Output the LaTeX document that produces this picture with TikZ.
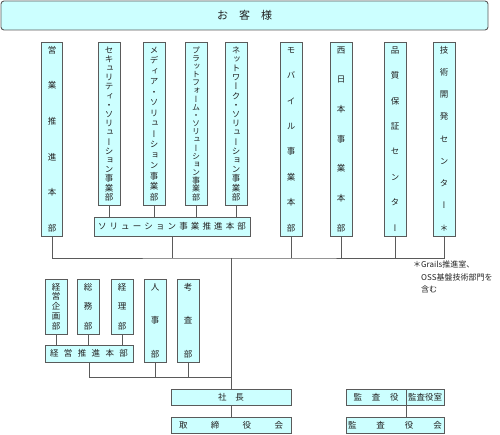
\documentclass[tikz,border=0pt]{standalone}
\usepackage{fontspec}
\setmainfont{Noto Sans CJK JP}
\newfontfamily\vjp[RawFeature=+vert]{Noto Sans CJK JP}
\definecolor{boxc}{HTML}{CCFFFF}
\definecolor{lineg}{HTML}{5A5A5A}
\definecolor{txt}{HTML}{222222}
% vertical stack of characters, #1 = distance between first and last char centres
\newcommand\vt[2]{\parbox[c][\dimexpr#1+0.76em\relax][s]{12pt}{\offinterlineskip\vjp\kern0.76em
  \foreach \ch [count=\i] in {#2}{\ifnum\i>1 \vfill\fi\hbox to 12pt{\hss\smash{\ch}\hss}}}}
% horizontally spread characters
\newcommand\hsp[2]{\makebox[#1][s]{\foreach \ch [count=\i] in {#2}{\ifnum\i>1 \hfill\fi\ch}}}
\tikzset{
  box/.style={draw=lineg, fill=boxc, line width=0.9pt, inner sep=0pt, text=txt,
    font=\fontsize{8.5}{9}\selectfont},
  link/.style={draw=lineg, line width=0.9pt},
}
\begin{document}
\begin{tikzpicture}[x=1pt,y=-1pt]
\useasboundingbox (0,0) rectangle (500,435);
% customer
\node[box, rounded corners=3pt, minimum width=487pt, minimum height=29pt, font=\fontsize{11}{12}\selectfont] (cust) at (244.5,15.5) {\hsp{55pt}{お,客,様}};
% top row
\node[box, minimum width=21pt, minimum height=194pt] (eig) at (52,139) {\vt{178pt}{営,業,推,進,本,部}};
\node[box, minimum width=22pt, minimum height=163pt] (sec) at (109,123.5) {\vt{147pt}{セ,キ,ュ,リ,テ,ィ,・,ソ,リ,ュ,ー,シ,ョ,ン,事,業,部}};
\node[box, minimum width=22pt, minimum height=163pt] (med) at (154,123.5) {\vt{147pt}{メ,デ,ィ,ア,・,ソ,リ,ュ,ー,シ,ョ,ン,事,業,部}};
\node[box, minimum width=22pt, minimum height=163pt, font=\fontsize{8}{9}\selectfont] (plat) at (196,123.5) {\vt{147pt}{プ,ラ,ッ,ト,フ,ォ,ー,ム,・,ソ,リ,ュ,ー,シ,ョ,ン,事,業,部}};
\node[box, minimum width=22pt, minimum height=163pt] (net) at (236,123.5) {\vt{147pt}{ネ,ッ,ト,ワ,ー,ク,・,ソ,リ,ュ,ー,シ,ョ,ン,事,業,部}};
\node[box, minimum width=156pt, minimum height=19pt] (sol) at (172,226.5) {\hsp{148pt}{ソ,リ,ュ,ー,シ,ョ,ン,事,業,推,進,本,部}};
\node[box, minimum width=22pt, minimum height=194pt] (mob) at (291,139) {\vt{178pt}{モ,バ,イ,ル,事,業,本,部}};
\node[box, minimum width=22pt, minimum height=194pt] (nishi) at (341,139) {\vt{178pt}{西,日,本,事,業,本,部}};
\node[box, minimum width=22pt, minimum height=194pt] (hin) at (395,139) {\vt{178pt}{品,質,保,証,セ,ン,タ,ー}};
\node[box, minimum width=22pt, minimum height=194pt] (gij) at (444,139) {\vt{178pt}{技,術,開,発,セ,ン,タ,ー,＊}};
% note
\node[anchor=north west, inner sep=0pt, align=left, text=txt, font=\fontsize{8}{12.5}\selectfont] (note) at (421,261) {\llap{＊}Grails推進室、\\OSS基盤技術部門を\\含む};
% lower left
\node[box, minimum width=22pt, minimum height=55pt] (kei) at (56,306.5) {\vt{39pt}{経,営,企,画,部}};
\node[box, minimum width=22pt, minimum height=55pt] (som) at (88,306.5) {\vt{39pt}{総,務,部}};
\node[box, minimum width=22pt, minimum height=55pt] (keiri) at (122,306.5) {\vt{39pt}{経,理,部}};
\node[box, minimum width=22pt, minimum height=83pt] (jin) at (155,320.5) {\vt{67pt}{人,事,部}};
\node[box, minimum width=22pt, minimum height=83pt] (kou) at (188,320.5) {\vt{67pt}{考,査,部}};
\node[box, minimum width=88pt, minimum height=17pt] (keisui) at (89,353.5) {\hsp{78pt}{経,営,推,進,本,部}};
% bottom
\node[box, minimum width=120pt, minimum height=16pt] (pres) at (231,397) {\hsp{26pt}{社,長}};
\node[box, minimum width=120pt, minimum height=16pt] (board) at (231,425) {\hsp{104pt}{取,締,役,会}};
\node[box, minimum width=60pt, minimum height=16pt] (kansa) at (376,397) {\hsp{45pt}{監,査,役}};
\node[box, minimum width=38pt, minimum height=16pt] (kshitsu) at (425,397) {\hsp{34pt}{監,査,役,室}};
\node[box, minimum width=98pt, minimum height=16pt] (kkai) at (395,425) {\hsp{94pt}{監,査,役,会}};
% connectors
\coordinate (hl) at (231,258);
\coordinate (ll) at (231,377);
\draw[link] (eig.south) |- (hl) -| (gij.south);
\foreach \n in {sol,mob,nishi,hin} \draw[link] (\n.south) -- (\n.south |- hl);
\foreach \n in {sec,med,plat,net} \draw[link] (\n.south) -- (\n.south |- sol.north);
\draw[link] (hl) -- (pres.north);
\draw[link] (keisui.south) |- (ll);
\foreach \n in {jin,kou} \draw[link] (\n.south) -- (\n.south |- ll);
\foreach \n in {kei,som,keiri} \draw[link] (\n.south) -- (\n.south |- keisui.north);
\draw[link] (pres.south) -- (board.north);
\draw[link] (kansa.south east) -- (kansa.south east |- kkai.north);
\end{tikzpicture}
\end{document}
